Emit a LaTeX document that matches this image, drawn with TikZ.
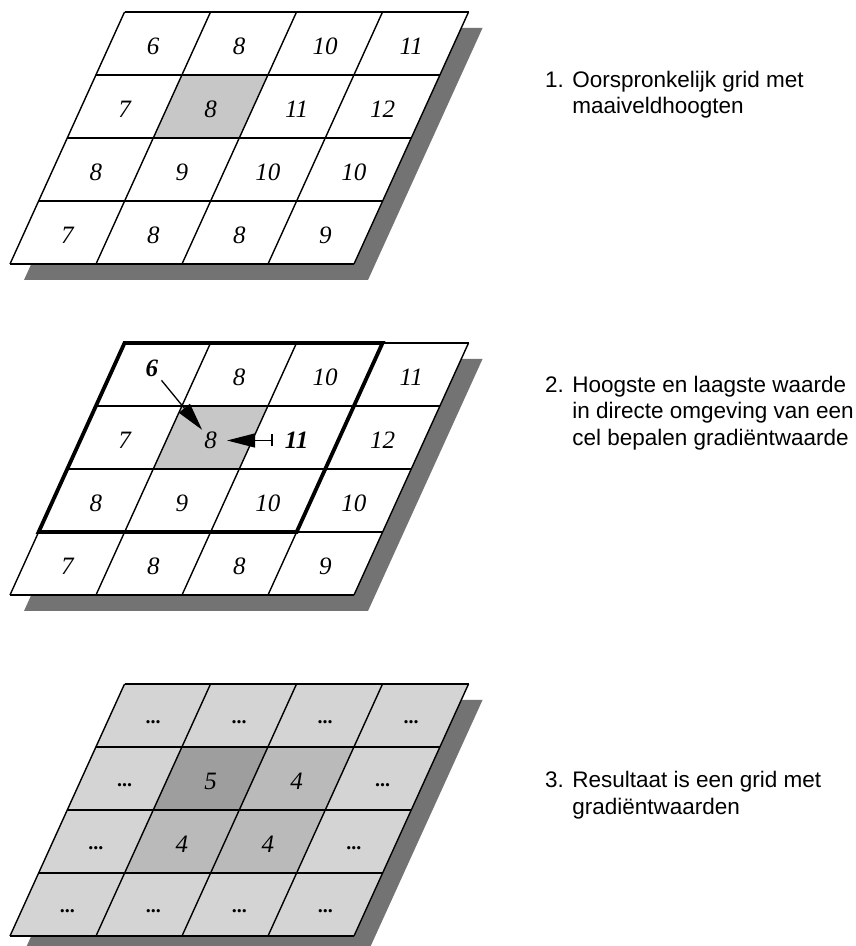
\documentclass[tikz,border=0pt]{standalone}
\usepackage{fontspec}
\setmainfont{Liberation Serif}
\setsansfont{Liberation Sans}
\usetikzlibrary{arrows.meta}

\begin{document}
\begin{tikzpicture}[
    x=1pt, y=1pt,
    cellnum/.style={font=\fontsize{25}{25}\selectfont\itshape, inner sep=2pt, yshift=-3pt},
    cellbold/.style={font=\fontsize{25}{25}\selectfont\bfseries\itshape, inner sep=2pt},
    celldots/.style={font=\fontsize{20}{20}\selectfont\bfseries, inner sep=0pt, yshift=-7pt},
    gridline/.style={line width=1.4pt},
    frameline/.style={line width=3.8pt},
    dropshadow/.style={fill=black!55, draw=none},
    cellshade/.style={fill=black!22},
    caption/.style={font=\sffamily\fontsize{22.5}{26.5}\selectfont, align=left, anchor=north west, inner sep=0pt},
    pointer/.style={-{Triangle[length=28pt, width=14pt]}, line width=1.3pt},
    grid1/.style={shift={(10,682)}, xslant=0.4545, x=86pt, y=63pt},
    grid2/.style={shift={(10,351)}, xslant=0.4545, x=86pt, y=63pt},
    grid3/.style={shift={(10,10)}, xslant=0.4545, x=86pt, y=63pt}
]
    \useasboundingbox (0,0) rectangle (856,946);

    % shadows under the three grids
    \foreach \gy in {682,351,10}
        \fill[dropshadow, shift={(24,\gy-16)}, xslant=0.4545] (0,0) rectangle (344,252);

    % 1: original grid
    \begin{scope}[grid1]
        \fill[white] (0,0) rectangle (4,4);
        \fill[cellshade] (1,2) rectangle (2,3);
        \foreach \k in {0,...,4} {
            \draw[gridline] (\k,0) -- (\k,4);
            \draw[gridline] (0,\k) -- (4,\k);
        }
        \foreach \c/\r/\t in {0/3/6, 1/3/8, 2/3/10, 3/3/11,
                              0/2/7, 1/2/8, 2/2/11, 3/2/12,
                              0/1/8, 1/1/9, 2/1/10, 3/1/10,
                              0/0/7, 1/0/8, 2/0/8, 3/0/9}
            \node[cellnum] (a\c\r) at (\c+0.5,\r+0.5) {\t};
    \end{scope}

    % 2: neighbourhood of one cell
    \begin{scope}[grid2]
        \fill[white] (0,0) rectangle (4,4);
        \fill[cellshade] (1,2) rectangle (2,3);
        \foreach \k in {0,...,4} {
            \draw[gridline] (\k,0) -- (\k,4);
            \draw[gridline] (0,\k) -- (4,\k);
        }
        \draw[frameline] (0,1) -- (0,4) -- (3,4) -- (3,1) -- cycle;
        \foreach \c/\r/\t in {1/3/8, 2/3/10, 3/3/11,
                              0/2/7, 1/2/8, 3/2/12,
                              0/1/8, 1/1/9, 2/1/10, 3/1/10,
                              0/0/7, 1/0/8, 2/0/8, 3/0/9}
            \node[cellnum] (b\c\r) at (\c+0.5,\r+0.5) {\t};
        \node[cellbold] (b03) at (0.45,3.6) {6};
        \node[cellbold, yshift=-3pt] (b22) at (2.5,2.5) {11};
    \end{scope}
    \draw[pointer, shorten <=2pt] (b03.south east) -- (b12.north west);
    \draw[{Bar[width=12pt]}-{Triangle[length=28pt, width=14pt]}, line width=1.3pt,
          shorten <=10pt, shorten >=8pt] (b22.west) -- (b12.east);

    % 3: resulting gradient grid
    \begin{scope}[grid3]
        \fill[black!17] (0,0) rectangle (4,4);
        \fill[black!38] (1,2) rectangle (2,3);
        \fill[black!27] (2,2) rectangle (3,3);
        \fill[black!27] (1,1) rectangle (3,2);
        \foreach \k in {0,...,4} {
            \draw[gridline] (\k,0) -- (\k,4);
            \draw[gridline] (0,\k) -- (4,\k);
        }
        \foreach \c/\r in {0/3, 1/3, 2/3, 3/3, 0/2, 3/2, 0/1, 3/1, 0/0, 1/0, 2/0, 3/0}
            \node[celldots] (c\c\r) at (\c+0.5,\r+0.5) {...};
        \foreach \c/\r/\t in {1/2/5, 2/2/4, 1/1/4, 2/1/4}
            \node[cellnum] (c\c\r) at (\c+0.5,\r+0.5) {\t};
    \end{scope}

    % captions
    \node[caption] (cap1) at (545,875) {1. Oorspronkelijk grid met\\\phantom{1. }maaiveldhoogten};
    \node[caption] (cap2) at (545,570) {2. Hoogste en laagste waarde\\\phantom{2. }in directe omgeving van een\\\phantom{2. }cel bepalen gradiëntwaarde};
    \node[caption] (cap3) at (545,175) {3. Resultaat is een grid met\\\phantom{3. }gradiëntwaarden};
\end{tikzpicture}
\end{document}
